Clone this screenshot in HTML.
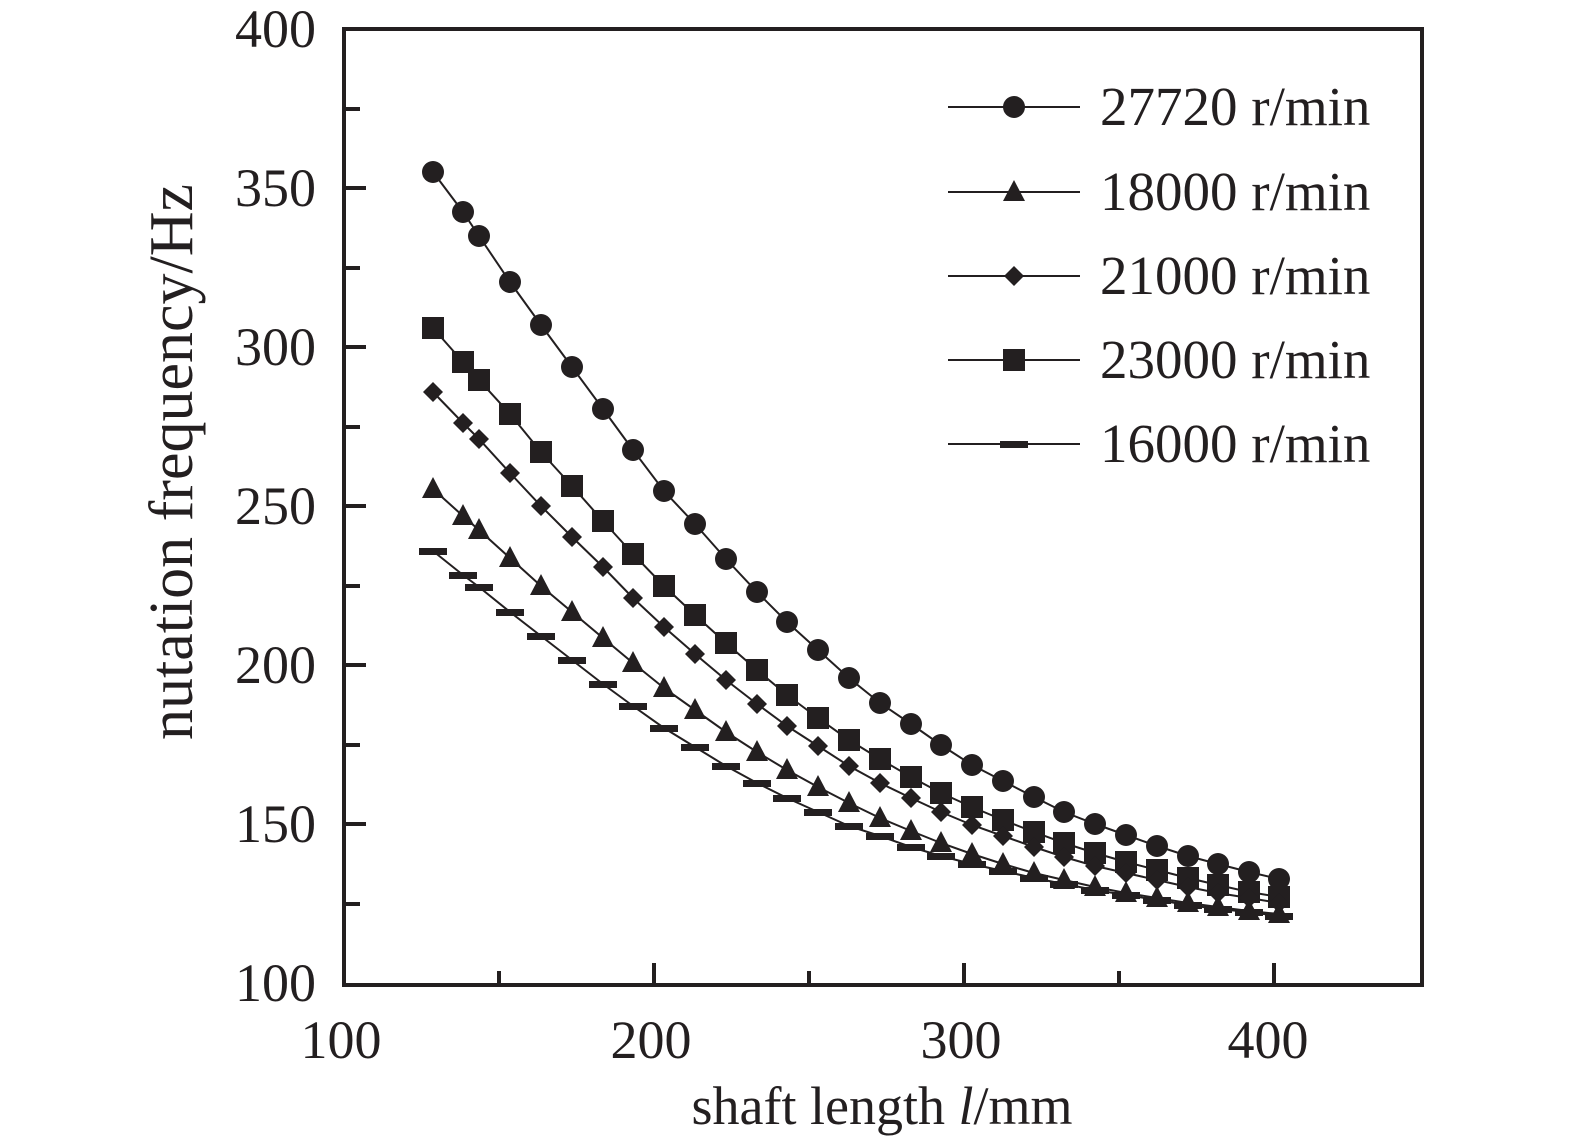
<!DOCTYPE html>
<html><head><style>body{margin:0;background:#fff}svg{display:block}text{font-family:"Liberation Serif",serif;fill:#231f20}</style></head><body>
<svg width="1575" height="1147" viewBox="0 0 1575 1147" xmlns="http://www.w3.org/2000/svg">
<g stroke="#231f20" stroke-width="4" fill="none">
<rect x="344" y="29" width="1078" height="956"/>
<path d="M344 109h16M344 268h16M344 427h16M344 586h16M344 745h16M344 904h16
M344 188h22M344 347h22M344 506h22M344 665h22M344 824h22
M499 985v-14M809 985v-14M1119 985v-14M654 985v-22M964 985v-22M1274 985v-22"/>
</g>
<g font-size="54" text-anchor="end">
<text x="316" y="47">400</text><text x="316" y="206">350</text><text x="316" y="365">300</text>
<text x="316" y="524">250</text><text x="316" y="683">200</text><text x="316" y="842">150</text><text x="316" y="1001">100</text>
</g>
<g font-size="54" text-anchor="middle">
<text x="341" y="1058">100</text><text x="651" y="1058">200</text><text x="961" y="1058">300</text><text x="1268" y="1058">400</text>
<text x="882" y="1124">shaft length <tspan font-style="italic">l</tspan>/mm</text>
<text font-size="62" transform="translate(192,462) rotate(-90)">nutation frequency/Hz</text>
</g>
<g font-size="55"><text x="1100" y="125">27720 r/min</text><text x="1100" y="210">18000 r/min</text><text x="1100" y="294">21000 r/min</text><text x="1100" y="378">23000 r/min</text><text x="1100" y="462">16000 r/min</text></g>
</svg>
<script>
const X=[433,463,479,510,541,572,603,633,664,695,726,757,787,818,849,880,911,941,972,1003,1034,1064,1095,1126,1157,1188,1218,1249,1279];
const S={c:[172,212,236,282,325,367,409,450,491,524,559,592,622,650,678,703,724,745,765,781,797,812,824,835,846,856,864,872,879],
s:[328,362,380,414,452,486,521,554,586,615,643,670,695,718,740,759,777,793,807,820,832,843,853,862,870,878,885,892,897],
d:[392,423,439,473,506,537,567,598,627,654,680,704,726,746,766,783,798,812,825,836,847,857,866,873,880,887,893,898,903],
t:[489,516,530,558,586,612,638,663,688,710,732,752,770,787,803,818,831,843,854,864,873,880,887,893,898,903,907,911,914],
h:[551,575,587,612,636,660,684,706,728,747,766,783,798,812,826,836,847,856,864,871,878,884,890,895,900,905,909,912,916]};
const svg=document.querySelector('svg');let h='';
function m(k,x,y){const f='fill="#231f20"';
if(k=='c')return `<circle cx="${x}" cy="${y}" r="11" ${f}/>`;
if(k=='s')return `<rect x="${x-11}" y="${y-11}" width="22" height="22" ${f}/>`;
if(k=='d')return `<polygon points="${x},${y-10} ${x+10},${y} ${x},${y+10} ${x-10},${y}" ${f}/>`;
if(k=='t')return `<polygon points="${x},${y-12} ${x+11},${y+9} ${x-11},${y+9}" ${f}/>`;
return `<rect x="${x-14}" y="${y-3}" width="28" height="7" ${f}/>`;}
for(const k in S){h+=`<polyline points="${X.map((x,i)=>x+','+S[k][i]).join(' ')}" stroke="#231f20" stroke-width="2" fill="none"/>`;
X.forEach((x,i)=>h+=m(k,x,S[k][i]));}
const L=[['c',107],['t',192],['d',276],['s',360],['h',444]];
L.forEach(([k,y])=>{h+=`<line x1="948" y1="${y}" x2="1080" y2="${y}" stroke="#231f20" stroke-width="2"/>`+m(k,1014,y);});
svg.insertAdjacentHTML('beforeend',h);
</script>
</body></html>
